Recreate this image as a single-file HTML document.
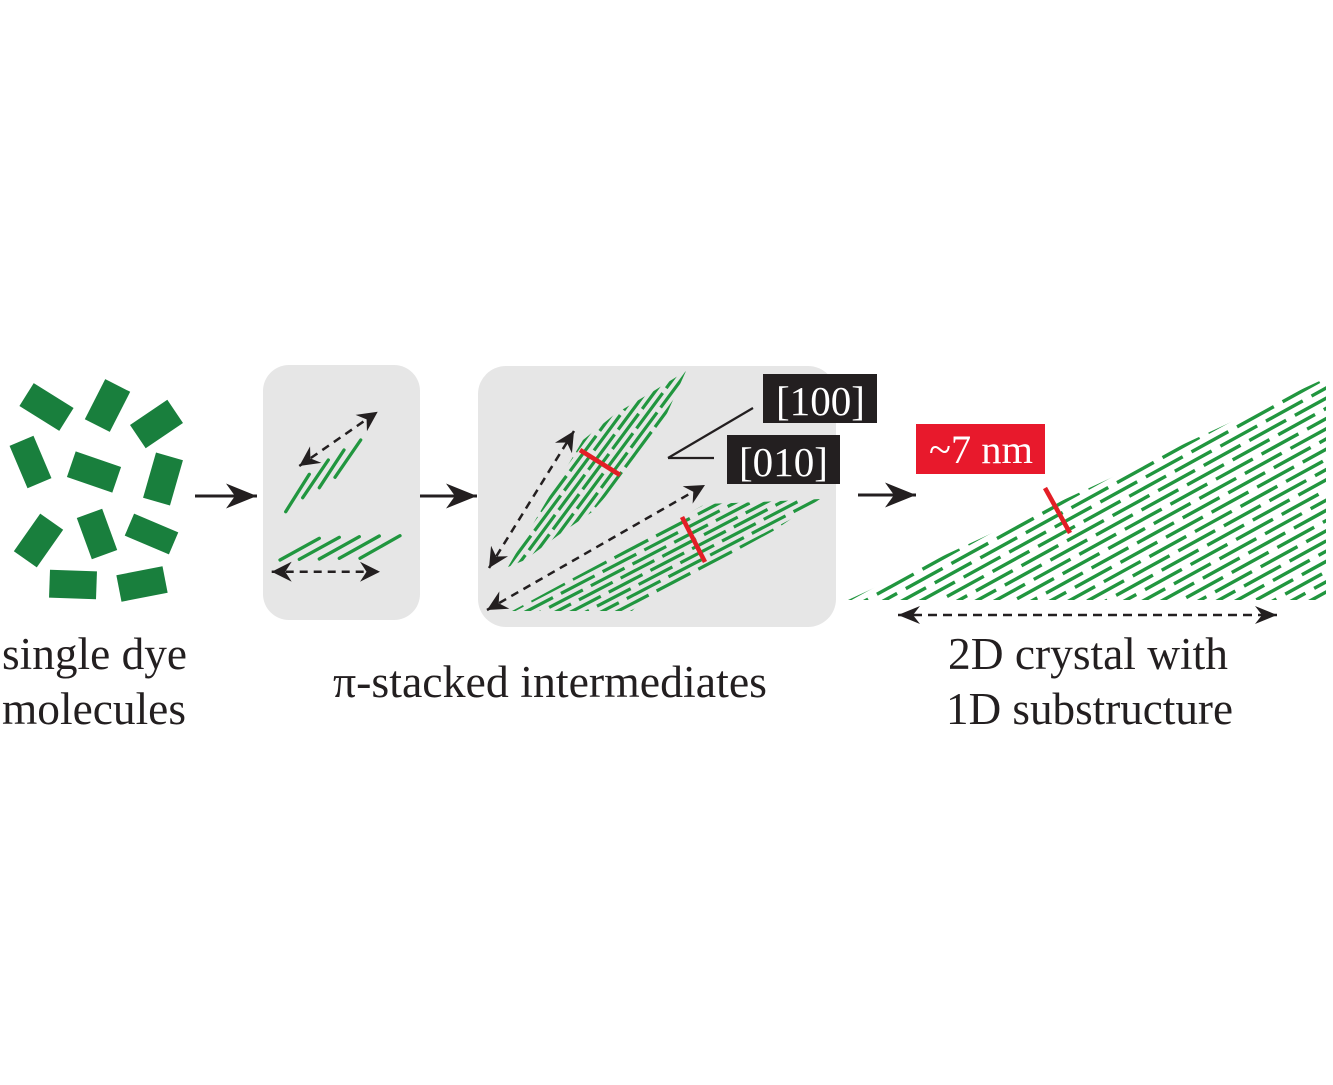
<!DOCTYPE html>
<html>
<head>
<meta charset="utf-8">
<style>
html,body{margin:0;padding:0;background:#fff;}
svg{display:block;}
text{font-family:"Liberation Serif","Times New Roman",serif;}
</style>
</head>
<body>
<svg width="1333" height="1085" viewBox="0 0 1333 1085" xmlns="http://www.w3.org/2000/svg">
<defs>
  <marker id="ah" markerUnits="userSpaceOnUse" viewBox="0 0 22 22" markerWidth="22" markerHeight="22" refX="20" refY="11" orient="auto-start-reverse">
    <path d="M20,11 L0,1 L6.5,11 L0,21 Z" fill="#231f20" stroke="none"/>
  </marker>
  <marker id="ah2" markerUnits="userSpaceOnUse" viewBox="0 0 24 20" markerWidth="24" markerHeight="20" refX="22" refY="10" orient="auto-start-reverse">
    <path d="M22,10 L0,1 L7,10 L0,19 Z" fill="#231f20" stroke="none"/>
  </marker>
  <marker id="big" markerUnits="userSpaceOnUse" viewBox="0 0 32 28" markerWidth="32" markerHeight="28" refX="31" refY="14" orient="auto">
    <path d="M31,14 L0,1.5 L9,14 L0,26.5 Z" fill="#231f20" stroke="none"/>
  </marker>
  <clipPath id="cU"><polygon points="508,567 540,512 565,470 583,440 615,414 652,392 686,371 665,418 648,442 622,478 592,512 560,534 525,560"/></clipPath>
  <clipPath id="cL"><polygon points="512,611 560,585 620,553 665,527 705,504 760,502 820,499 775,530 720,560 672,586 640,603 632,611"/></clipPath>
  <clipPath id="cC"><polygon points="848,600 1326,378 1326,600"/></clipPath>
</defs>

<rect width="1333" height="1085" fill="#fff"/>

<!-- single dye molecules -->
<g fill="#197f3d">
  <rect x="-23.5" y="-13.5" width="47" height="27" transform="translate(46.5,407) rotate(32)"/>
  <rect x="-22.5" y="-14" width="45" height="28" transform="translate(107.5,405.5) rotate(117)"/>
  <rect x="-22.5" y="-14" width="45" height="28" transform="translate(156.5,424) rotate(146)"/>
  <rect x="-23" y="-13" width="46" height="26" transform="translate(30.5,462) rotate(67)"/>
  <rect x="-24" y="-13.5" width="48" height="27" transform="translate(94,472) rotate(19)"/>
  <rect x="-23.5" y="-14" width="47" height="28" transform="translate(163,479) rotate(106)"/>
  <rect x="-23" y="-14" width="46" height="28" transform="translate(38.5,540.5) rotate(125)"/>
  <rect x="-22" y="-13.5" width="44" height="27" transform="translate(97,534) rotate(70)"/>
  <rect x="-24" y="-12" width="48" height="24" transform="translate(151.5,534) rotate(23)"/>
  <rect x="-23.5" y="-14" width="47" height="28" transform="translate(73,584.5) rotate(2)"/>
  <rect x="-23.5" y="-13.5" width="47" height="27" transform="translate(142,584) rotate(-11)"/>
</g>

<!-- grey boxes -->
<rect x="263" y="365" width="157" height="255" rx="26" fill="#e6e6e6"/>
<rect x="478" y="366" width="358" height="261" rx="28" fill="#e6e6e6"/>

<!-- solid arrows -->
<g stroke="#231f20" stroke-width="3" fill="none">
  <line x1="195" y1="496" x2="257" y2="496" marker-end="url(#big)"/>
  <line x1="420" y1="496" x2="477" y2="496" marker-end="url(#big)"/>
  <line x1="858" y1="495" x2="916" y2="495" marker-end="url(#big)"/>
</g>

<!-- box 1 stacks -->
<g stroke="#21963f" stroke-width="3.3" stroke-linecap="round">
  <line x1="285.7" y1="511.7" x2="309.3" y2="474.3"/>
  <line x1="302.7" y1="497.7" x2="328.3" y2="460"/>
  <line x1="319.3" y1="487.7" x2="344" y2="450"/>
  <line x1="335" y1="477.3" x2="360.7" y2="440"/>
  <line x1="280" y1="560" x2="319.3" y2="538.3"/>
  <line x1="299.3" y1="559.3" x2="339.3" y2="537.3"/>
  <line x1="319.3" y1="559" x2="359.3" y2="536.7"/>
  <line x1="339.3" y1="558.3" x2="379.3" y2="536"/>
  <line x1="360" y1="558.3" x2="400" y2="535.7"/>
</g>
<g stroke="#231f20" stroke-width="2.5" stroke-dasharray="8 6" fill="none">
  <line x1="299.3" y1="466" x2="377.7" y2="411.7" marker-start="url(#ah)" marker-end="url(#ah)"/>
  <line x1="271.7" y1="571.7" x2="380" y2="571.7" marker-start="url(#ah)" marker-end="url(#ah)"/>
</g>

<!-- box 2 upper cluster -->
<g clip-path="url(#cU)" stroke="#21963f" stroke-width="3.2" stroke-dasharray="44 6" fill="none">
  <line x1="468.0" y1="573.6" x2="658.4" y2="316.4" stroke-dashoffset="0"/>
  <line x1="473.7" y1="577.8" x2="664.1" y2="320.6" stroke-dashoffset="19"/>
  <line x1="479.3" y1="581.9" x2="669.7" y2="324.7" stroke-dashoffset="38"/>
  <line x1="484.9" y1="586.1" x2="675.3" y2="328.9" stroke-dashoffset="7"/>
  <line x1="490.5" y1="590.3" x2="680.9" y2="333.1" stroke-dashoffset="26"/>
  <line x1="496.2" y1="594.4" x2="686.6" y2="337.2" stroke-dashoffset="45"/>
  <line x1="501.8" y1="598.6" x2="692.2" y2="341.4" stroke-dashoffset="14"/>
  <line x1="507.4" y1="602.8" x2="697.8" y2="345.6" stroke-dashoffset="33"/>
  <line x1="513.1" y1="606.9" x2="703.5" y2="349.7" stroke-dashoffset="2"/>
  <line x1="518.7" y1="611.1" x2="709.1" y2="353.9" stroke-dashoffset="21"/>
  <line x1="524.3" y1="615.3" x2="714.7" y2="358.1" stroke-dashoffset="40"/>
  <line x1="529.9" y1="619.4" x2="720.3" y2="362.2" stroke-dashoffset="9"/>
  <line x1="535.6" y1="623.6" x2="726.0" y2="366.4" stroke-dashoffset="28"/>
</g>

<!-- box 2 lower cluster -->
<g clip-path="url(#cL)" stroke="#21963f" stroke-width="3.2" stroke-dasharray="38 9" fill="none">
  <line x1="471.4" y1="616.4" x2="826.2" y2="431.6" stroke-dashoffset="0"/>
  <line x1="474.7" y1="622.6" x2="829.5" y2="437.8" stroke-dashoffset="17"/>
  <line x1="477.9" y1="628.8" x2="832.7" y2="444.0" stroke-dashoffset="34"/>
  <line x1="481.1" y1="635.0" x2="835.9" y2="450.2" stroke-dashoffset="4"/>
  <line x1="484.4" y1="641.2" x2="839.2" y2="456.4" stroke-dashoffset="21"/>
  <line x1="487.6" y1="647.4" x2="842.4" y2="462.6" stroke-dashoffset="38"/>
  <line x1="490.8" y1="653.6" x2="845.6" y2="468.8" stroke-dashoffset="8"/>
  <line x1="494.1" y1="659.8" x2="848.9" y2="475.0" stroke-dashoffset="25"/>
  <line x1="497.3" y1="666.0" x2="852.1" y2="481.2" stroke-dashoffset="42"/>
  <line x1="500.5" y1="672.2" x2="855.3" y2="487.4" stroke-dashoffset="12"/>
  <line x1="503.8" y1="678.4" x2="858.6" y2="493.6" stroke-dashoffset="29"/>
</g>

<!-- box 2 dashed arrows -->
<g stroke="#231f20" stroke-width="2.5" stroke-dasharray="8 6" fill="none">
  <line x1="489" y1="568" x2="574" y2="431" marker-start="url(#ah)" marker-end="url(#ah)"/>
  <line x1="487" y1="610" x2="705" y2="485" marker-start="url(#ah)" marker-end="url(#ah)"/>
</g>

<!-- red bars in box 2 -->
<g stroke="#e31e26" stroke-width="4.6">
  <line x1="580" y1="450" x2="620" y2="475"/>
  <line x1="682" y1="517" x2="705" y2="562"/>
</g>

<!-- pointer lines -->
<g stroke="#231f20" stroke-width="2.2" fill="none">
  <line x1="668" y1="458" x2="753" y2="408"/>
  <line x1="668" y1="458" x2="714" y2="458"/>
</g>

<!-- labels boxes -->
<rect x="763" y="374" width="114" height="49" fill="#231f20"/>
<text x="776" y="415" font-size="41" fill="#fff" textLength="89" lengthAdjust="spacingAndGlyphs">[100]</text>
<rect x="727" y="435" width="113" height="49" fill="#231f20"/>
<text x="739" y="476" font-size="41" fill="#fff" textLength="89" lengthAdjust="spacingAndGlyphs">[010]</text>
<rect x="916" y="424" width="129" height="50" fill="#e8192c"/>
<text x="929" y="463" font-size="40" fill="#fff" textLength="104" lengthAdjust="spacingAndGlyphs">~7 nm</text>

<!-- crystal -->
<g clip-path="url(#cC)" stroke="#21963f" stroke-width="3.4" stroke-dasharray="42 10" fill="none">
  <line x1="848" y1="600" x2="1330" y2="334.9" stroke-dashoffset="0"/>
  <line x1="848" y1="610.2" x2="1330" y2="345.1" stroke-dashoffset="19"/>
  <line x1="848" y1="620.4" x2="1330" y2="355.3" stroke-dashoffset="38"/>
  <line x1="848" y1="630.6" x2="1330" y2="365.5" stroke-dashoffset="5"/>
  <line x1="848" y1="640.8" x2="1330" y2="375.7" stroke-dashoffset="24"/>
  <line x1="848" y1="651.0" x2="1330" y2="385.9" stroke-dashoffset="43"/>
  <line x1="848" y1="661.2" x2="1330" y2="396.1" stroke-dashoffset="10"/>
  <line x1="848" y1="671.4" x2="1330" y2="406.3" stroke-dashoffset="29"/>
  <line x1="848" y1="681.6" x2="1330" y2="416.5" stroke-dashoffset="48"/>
  <line x1="848" y1="691.8" x2="1330" y2="426.7" stroke-dashoffset="15"/>
  <line x1="848" y1="702.0" x2="1330" y2="436.9" stroke-dashoffset="34"/>
  <line x1="848" y1="712.2" x2="1330" y2="447.1" stroke-dashoffset="1"/>
  <line x1="848" y1="722.4" x2="1330" y2="457.3" stroke-dashoffset="20"/>
  <line x1="848" y1="732.6" x2="1330" y2="467.5" stroke-dashoffset="39"/>
  <line x1="848" y1="742.8" x2="1330" y2="477.7" stroke-dashoffset="6"/>
  <line x1="848" y1="753.0" x2="1330" y2="487.9" stroke-dashoffset="25"/>
  <line x1="848" y1="763.2" x2="1330" y2="498.1" stroke-dashoffset="44"/>
  <line x1="848" y1="773.4" x2="1330" y2="508.3" stroke-dashoffset="11"/>
  <line x1="848" y1="783.6" x2="1330" y2="518.5" stroke-dashoffset="30"/>
  <line x1="848" y1="793.8" x2="1330" y2="528.7" stroke-dashoffset="49"/>
  <line x1="848" y1="804.0" x2="1330" y2="538.9" stroke-dashoffset="16"/>
  <line x1="848" y1="814.2" x2="1330" y2="549.1" stroke-dashoffset="35"/>
  <line x1="848" y1="824.4" x2="1330" y2="559.3" stroke-dashoffset="2"/>
  <line x1="848" y1="834.6" x2="1330" y2="569.5" stroke-dashoffset="21"/>
  <line x1="848" y1="844.8" x2="1330" y2="579.7" stroke-dashoffset="40"/>
  <line x1="848" y1="855.0" x2="1330" y2="589.9" stroke-dashoffset="7"/>
</g>
<line x1="1045" y1="488" x2="1070" y2="533" stroke="#e31e26" stroke-width="4.6"/>

<!-- crystal dashed arrow -->
<line x1="898" y1="615" x2="1277" y2="615" stroke="#231f20" stroke-width="2.5" stroke-dasharray="9 6" marker-start="url(#ah2)" marker-end="url(#ah2)"/>

<!-- captions -->
<g fill="#231f20" font-size="45">
  <text x="2" y="669" textLength="185" lengthAdjust="spacingAndGlyphs">single dye</text>
  <text x="2" y="724" textLength="184" lengthAdjust="spacingAndGlyphs">molecules</text>
  <text x="333" y="697" textLength="434" lengthAdjust="spacingAndGlyphs">π-stacked intermediates</text>
  <text x="948" y="669" textLength="280" lengthAdjust="spacingAndGlyphs">2D crystal with</text>
  <text x="946" y="724" textLength="287" lengthAdjust="spacingAndGlyphs">1D substructure</text>
</g>
</svg>
</body>
</html>
